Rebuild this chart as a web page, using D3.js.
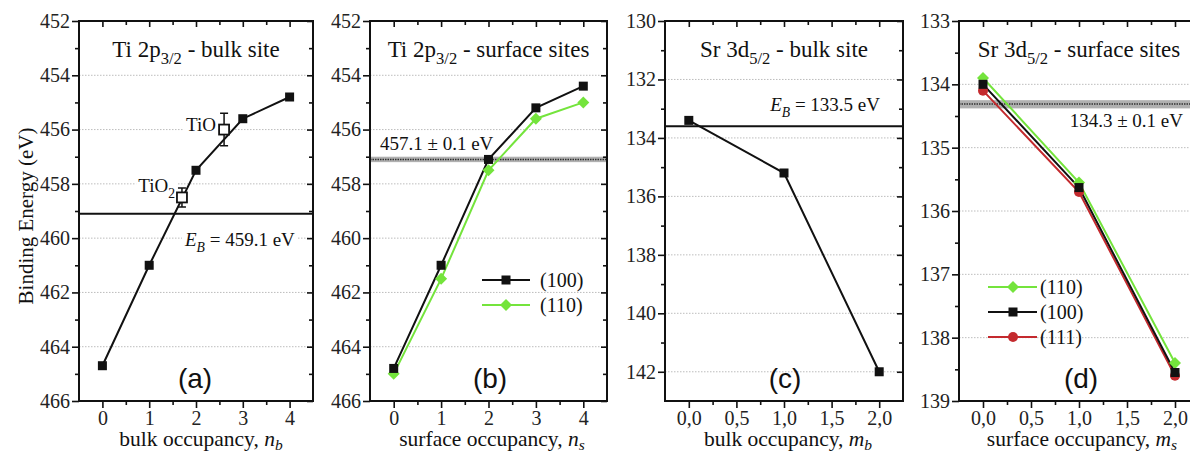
<!DOCTYPE html>
<html><head><meta charset="utf-8">
<script src="https://cdn.jsdelivr.net/npm/d3@7"></script>
<style>body{margin:0;background:#fff}svg{display:block}</style>
</head><body>
<svg id="chart" width="1190" height="453"></svg>
<script>
// ---------- data ----------
const aX = [0, 1, 2, 3, 4];
const aY = [464.7, 461.0, 457.5, 455.6, 454.8];
const aRefX = [1.7, 2.6];
const aRefY = [458.5, 456.0];
const aRefErr = [0.35, 0.6];
const aEB = 459.1;

const bX = [0, 1, 2, 3, 4];
const b100 = [464.8, 461.0, 457.1, 455.2, 454.4];
const b110 = [465.0, 461.5, 457.5, 455.6, 455.0];
const bBand = [457.0, 457.2];
const bMid = 457.1;

const cX = [0, 1, 2];
const cY = [133.4, 135.2, 142.0];
const cEB = 133.6;

const dX = [0, 1, 2];
const d110 = [133.9, 135.55, 138.4];
const d100 = [134.0, 135.63, 138.55];
const d111 = [134.1, 135.7, 138.6];
const dBand = [134.25, 134.38];
const dMid = 134.31;

const abXTicks = [0, 1, 2, 3, 4];
const abXTickLabels = ["0", "1", "2", "3", "4"];
const abYTicks = [452, 454, 456, 458, 460, 462, 464, 466];
const cdXTicks = [0, 0.5, 1, 1.5, 2];
const cdXTickLabels = ["0,0", "0,5", "1,0", "1,5", "2,0"];
const cYTicks = [130, 132, 134, 136, 138, 140, 142];
const dYTicks = [133, 134, 135, 136, 137, 138, 139];

// ---------- style ----------
const SERIF = '"Liberation Serif"';
const SANS = '"Liberation Sans"';
const GREEN = "#74e43c";
const RED = "#c42a2e";
const TOP = 21, BOT = 401;
const svg = d3.select("#chart");

function richText(g, x, y, segs, opts) {
  const sz = opts.size || 20;
  const t = g.append("text").attr("x", x).attr("y", y)
    .style("font-family", SERIF).style("font-size", sz + "px")
    .attr("text-anchor", opts.anchor || "start").attr("fill", "#111");
  let shift = 0;
  segs.forEach(s => {
    const sp = t.append("tspan").text(s.t);
    const target = s.sub ? sz * (opts.subShift || 0.3) : 0;
    if (target !== shift) { sp.attr("dy", target - shift); shift = target; }
    if (s.sub) sp.style("font-size", (sz * 0.72) + "px");
    if (s.it) sp.style("font-style", "italic");
  });
  if (opts.bg) {
    const bb = t.node().getBBox();
    g.insert("rect", () => t.node()).attr("x", bb.x - 2).attr("y", bb.y)
      .attr("width", bb.width + 4).attr("height", bb.height).attr("fill", "#fff");
  }
  return t;
}

function panel(cfg) {
  const g = svg.append("g");
  const x = d3.scaleLinear().domain(cfg.xDom).range([cfg.x0, cfg.x1]);
  const y = d3.scaleLinear().domain(cfg.yDom).range([TOP, BOT]);
  g.append("g").selectAll("line").data(cfg.grid).join("line")
    .attr("x1", cfg.x0).attr("x2", cfg.x1).attr("y1", d => y(d)).attr("y2", d => y(d))
    .attr("stroke", "#bdbdbd").attr("stroke-width", 1).attr("stroke-dasharray", "1.5,1.5");
  const ctx = { g, x, y };
  cfg.draw(ctx);
  const W = cfg.x1 - cfg.x0, H = BOT - TOP;
  const fmtX = d => cfg.xLabels[cfg.xTicks.indexOf(d)];
  g.append("g").attr("transform", `translate(0,${BOT})`)
    .call(d3.axisBottom(x).tickValues(cfg.xTicks).tickFormat(fmtX).tickSize(7).tickPadding(3));
  g.append("g").attr("transform", `translate(0,${BOT})`)
    .call(d3.axisBottom(x).tickValues(cfg.xMinor).tickFormat("").tickSize(4));
  g.append("g").attr("transform", `translate(0,${TOP})`)
    .call(d3.axisTop(x).tickValues(cfg.xTicks).tickFormat("").tickSize(-6));
  g.append("g").attr("transform", `translate(0,${TOP})`)
    .call(d3.axisTop(x).tickValues(cfg.xMinor).tickFormat("").tickSize(-4));
  g.append("g").attr("transform", `translate(${cfg.x0},0)`)
    .call(d3.axisLeft(y).tickValues(cfg.yTicks).tickFormat(d3.format("d")).tickSize(7).tickPadding(2));
  g.append("g").attr("transform", `translate(${cfg.x0},0)`)
    .call(d3.axisLeft(y).tickValues(cfg.yMinor).tickFormat("").tickSize(4));
  g.append("g").attr("transform", `translate(${cfg.x1},0)`)
    .call(d3.axisRight(y).tickValues(cfg.yTicks).tickFormat("").tickSize(-6));
  g.append("g").attr("transform", `translate(${cfg.x1},0)`)
    .call(d3.axisRight(y).tickValues(cfg.yMinor).tickFormat("").tickSize(-4));
  g.selectAll(".domain").remove();
  g.selectAll(".tick line").attr("stroke", "#111").attr("stroke-width", 1.6);
  g.selectAll(".tick text").style("font-family", SERIF).style("font-size", "20px").attr("fill", "#222");
  g.append("rect").attr("x", cfg.x0).attr("y", TOP).attr("width", W).attr("height", H)
    .attr("fill", "none").attr("stroke", "#111").attr("stroke-width", 2);
  richText(g, (cfg.x0 + cfg.x1) / 2, 57, cfg.title, { anchor: "middle", size: 23, bg: true });
  g.append("text").attr("x", cfg.letterX).attr("y", 388).attr("text-anchor", "middle")
    .style("font-family", SANS).style("font-size", "28px").attr("fill", "#111").text(cfg.letter);
  richText(g, cfg.xTitleX, 446, cfg.xTitle, { anchor: "middle", size: 21.5, subShift: 0.2 });
  return ctx;
}

function squares(g, pts, x, y, color, size, hollow) {
  g.append("g").selectAll("rect").data(pts).join("rect")
    .attr("x", d => x(d[0]) - size / 2).attr("y", d => y(d[1]) - size / 2)
    .attr("width", size).attr("height", size)
    .attr("fill", hollow ? "#fff" : color).attr("stroke", color).attr("stroke-width", hollow ? 1.8 : 0);
}
function diamonds(g, pts, x, y, color, r) {
  g.append("g").selectAll("path").data(pts).join("path")
    .attr("d", d => `M${x(d[0])},${y(d[1]) - r}L${x(d[0]) + r},${y(d[1])}L${x(d[0])},${y(d[1]) + r}L${x(d[0]) - r},${y(d[1])}Z`)
    .attr("fill", color);
}
function circles(g, pts, x, y, color, r) {
  g.append("g").selectAll("circle").data(pts).join("circle")
    .attr("cx", d => x(d[0])).attr("cy", d => y(d[1])).attr("r", r).attr("fill", color);
}
function line(g, pts, x, y, color) {
  g.append("path").datum(pts).attr("fill", "none").attr("stroke", color).attr("stroke-width", 2)
    .attr("d", d3.line().x(d => x(d[0])).y(d => y(d[1])));
}
const zip = (xs, ys) => xs.map((v, i) => [v, ys[i]]);

// ---------- panel (a) ----------
panel({
  x0: 79, x1: 313, xDom: [-0.5, 4.5], yDom: [452, 466],
  xTicks: abXTicks, xLabels: abXTickLabels, xMinor: [0.5, 1.5, 2.5, 3.5],
  yTicks: abYTicks, yMinor: [453, 455, 457, 459, 461, 463, 465], grid: [454, 456, 458, 460, 462, 464],
  title: [{ t: "Ti 2p" }, { t: "3/2", sub: true }, { t: " - bulk site" }],
  letter: "(a)", letterX: 195,
  xTitle: [{ t: "bulk occupancy, " }, { t: "n", it: true }, { t: "b", it: true, sub: true }], xTitleX: 201,
  draw: ({ g, x, y }) => {
    richText(g, 185, 246, [{ t: "E", it: true }, { t: "B", it: true, sub: true }, { t: " = 459.1 eV" }], { size: 19, bg: true });
    richText(g, 216, 131, [{ t: "TiO" }], { size: 19, anchor: "end", bg: true });
    richText(g, 175, 192, [{ t: "TiO" }, { t: "2", sub: true }], { size: 19, anchor: "end", bg: true });
    g.append("line").attr("x1", x(-0.5)).attr("x2", x(4.5)).attr("y1", y(aEB)).attr("y2", y(aEB))
      .attr("stroke", "#111").attr("stroke-width", 2);
    line(g, zip(aX, aY), x, y, "#111");
    aRefX.forEach((vx, i) => {
      const cx = x(vx), y0 = y(aRefY[i] - aRefErr[i]), y1 = y(aRefY[i] + aRefErr[i]);
      g.append("path").attr("d", `M${cx},${y0}V${y1}M${cx - 4},${y0}H${cx + 4}M${cx - 4},${y1}H${cx + 4}`)
        .attr("stroke", "#111").attr("stroke-width", 1.5).attr("fill", "none");
    });
    squares(g, zip(aRefX, aRefY), x, y, "#111", 10, true);
    squares(g, zip(aX, aY), x, y, "#111", 9, false);
  }
});

// ---------- panel (b) ----------
panel({
  x0: 370, x1: 607, xDom: [-0.5, 4.5], yDom: [452, 466],
  xTicks: abXTicks, xLabels: abXTickLabels, xMinor: [0.5, 1.5, 2.5, 3.5],
  yTicks: abYTicks, yMinor: [453, 455, 457, 459, 461, 463, 465], grid: [454, 456, 458, 460, 462, 464],
  title: [{ t: "Ti 2p" }, { t: "3/2", sub: true }, { t: " - surface sites" }],
  letter: "(b)", letterX: 490,
  xTitle: [{ t: "surface occupancy, " }, { t: "n", it: true }, { t: "s", it: true, sub: true }], xTitleX: 492,
  draw: ({ g, x, y }) => {
    richText(g, 380, 150, [{ t: "457.1 ± 0.1 eV" }], { size: 19, bg: true });
    g.append("rect").attr("x", x(-0.5)).attr("width", x(4.5) - x(-0.5))
      .attr("y", y(bBand[0])).attr("height", y(bBand[1]) - y(bBand[0])).attr("fill", "#b0b0b0");
    g.append("line").attr("x1", x(-0.5)).attr("x2", x(4.5)).attr("y1", y(bMid)).attr("y2", y(bMid))
      .attr("stroke", "#333").attr("stroke-width", 1.5).attr("stroke-dasharray", "1.5,1");
    line(g, zip(bX, b110), x, y, GREEN);
    line(g, zip(bX, b100), x, y, "#111");
    diamonds(g, zip(bX, b110), x, y, GREEN, 6);
    squares(g, zip(bX, b100), x, y, "#111", 9, false);
    const lg = g.append("g");
    [["(100)", "#111", "sq", 280], ["(110)", GREEN, "di", 305]].forEach(([lab, col, m, ly]) => {
      lg.append("line").attr("x1", 482).attr("x2", 530).attr("y1", ly).attr("y2", ly).attr("stroke", col).attr("stroke-width", 2);
      if (m === "sq") lg.append("rect").attr("x", 506 - 4.5).attr("y", ly - 4.5).attr("width", 9).attr("height", 9).attr("fill", col);
      else lg.append("path").attr("d", `M506,${ly - 6}L512,${ly}L506,${ly + 6}L500,${ly}Z`).attr("fill", col);
      lg.append("text").attr("x", 540).attr("y", ly + 7).style("font-family", SERIF).style("font-size", "20px").attr("fill", "#111").text(lab);
    });
  }
});

// ---------- panel (c) ----------
panel({
  x0: 665, x1: 903, xDom: [-0.25, 2.25], yDom: [130, 143],
  xTicks: cdXTicks, xLabels: cdXTickLabels, xMinor: [0.25, 0.75, 1.25, 1.75],
  yTicks: cYTicks, yMinor: [131, 133, 135, 137, 139, 141], grid: [132, 134, 136, 138, 140, 142],
  title: [{ t: "Sr 3d" }, { t: "5/2", sub: true }, { t: " - bulk site" }],
  letter: "(c)", letterX: 785,
  xTitle: [{ t: "bulk occupancy, " }, { t: "m", it: true }, { t: "b", it: true, sub: true }], xTitleX: 788,
  draw: ({ g, x, y }) => {
    richText(g, 880, 111, [{ t: "E", it: true }, { t: "B", it: true, sub: true }, { t: " = 133.5 eV" }], { size: 19, anchor: "end", bg: true });
    g.append("line").attr("x1", x(-0.25)).attr("x2", x(2.25)).attr("y1", y(cEB)).attr("y2", y(cEB))
      .attr("stroke", "#111").attr("stroke-width", 2);
    line(g, zip(cX, cY), x, y, "#111");
    squares(g, zip(cX, cY), x, y, "#111", 9, false);
  }
});

// ---------- panel (d) ----------
panel({
  x0: 959, x1: 1199, xDom: [-0.25, 2.25], yDom: [133, 139],
  xTicks: cdXTicks, xLabels: cdXTickLabels, xMinor: [0.25, 0.75, 1.25, 1.75],
  yTicks: dYTicks, yMinor: [133.5, 134.5, 135.5, 136.5, 137.5, 138.5], grid: [134, 135, 136, 137, 138],
  title: [{ t: "Sr 3d" }, { t: "5/2", sub: true }, { t: " - surface sites" }],
  letter: "(d)", letterX: 1081,
  xTitle: [{ t: "surface occupancy, " }, { t: "m", it: true }, { t: "s", it: true, sub: true }], xTitleX: 1082,
  draw: ({ g, x, y }) => {
    richText(g, 1183, 127, [{ t: "134.3 ± 0.1 eV" }], { size: 19, anchor: "end", bg: true });
    g.append("rect").attr("x", x(-0.25)).attr("width", x(2.25) - x(-0.25))
      .attr("y", y(dBand[0])).attr("height", y(dBand[1]) - y(dBand[0])).attr("fill", "#b0b0b0");
    g.append("line").attr("x1", x(-0.25)).attr("x2", x(2.25)).attr("y1", y(dMid)).attr("y2", y(dMid))
      .attr("stroke", "#333").attr("stroke-width", 1.5).attr("stroke-dasharray", "1.5,1");
    line(g, zip(dX, d111), x, y, RED);
    line(g, zip(dX, d110), x, y, GREEN);
    line(g, zip(dX, d100), x, y, "#111");
    diamonds(g, zip(dX, d110), x, y, GREEN, 6);
    circles(g, zip(dX, d111), x, y, RED, 5);
    squares(g, zip(dX, d100), x, y, "#111", 9, false);
    const lg = g.append("g");
    [["(110)", GREEN, "di", 287], ["(100)", "#111", "sq", 312], ["(111)", RED, "ci", 337]].forEach(([lab, col, m, ly]) => {
      lg.append("line").attr("x1", 988).attr("x2", 1037).attr("y1", ly).attr("y2", ly).attr("stroke", col).attr("stroke-width", 2);
      if (m === "sq") lg.append("rect").attr("x", 1013 - 4.5).attr("y", ly - 4.5).attr("width", 9).attr("height", 9).attr("fill", col);
      else if (m === "di") lg.append("path").attr("d", `M1013,${ly - 6}L1019,${ly}L1013,${ly + 6}L1007,${ly}Z`).attr("fill", col);
      else lg.append("circle").attr("cx", 1013).attr("cy", ly).attr("r", 5).attr("fill", col);
      lg.append("text").attr("x", 1040).attr("y", ly + 7).style("font-family", SERIF).style("font-size", "20px").attr("fill", "#111").text(lab);
    });
  }
});

svg.append("text").attr("transform", "translate(33,216) rotate(-90)").attr("text-anchor", "middle")
  .style("font-family", SERIF).style("font-size", "21px").attr("fill", "#111").text("Binding Energy (eV)");
</script>
</body></html>
